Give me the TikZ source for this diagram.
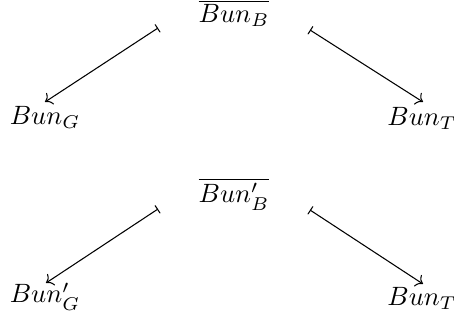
\documentclass[tikz,border=0pt]{standalone}
\usetikzlibrary{cd,calc}
\tikzset{
  lbl/.style={anchor=base,inner sep=0pt},
  mapto/.style={arrows={cm bar-cm to},line width=0.4pt}
}
\begin{document}
\begin{tikzpicture}[x=0.3774pt,y=-0.3774pt]
\useasboundingbox (0,0) rectangle (454,326);
% top diagram
\node[lbl] (b) at (234,23) {$\overline{Bun_B}$};
\node[lbl] (g) at (45,125) {$Bun_G$};
\node[lbl] (t) at (422,126) {$Bun_T$};
\draw[mapto] ($(b.base)+(-76,5)$) -- ($(g.base)+(0,-23)$);
\draw[mapto] ($(b.base)+(76,7)$) -- ($(t.base)+(1,-24)$);
% bottom diagram
\node[lbl] (b2) at (234,203) {$\overline{Bun'_B}$};
\node[lbl] (g2) at (45,303) {$Bun'_G$};
\node[lbl] (t2) at (422,306) {$Bun_T$};
\draw[mapto] ($(b2.base)+(-76,6)$) -- ($(g2.base)+(1,-20)$);
\draw[mapto] ($(b2.base)+(76,7)$) -- ($(t2.base)+(1,-22)$);
\end{tikzpicture}
\end{document}
